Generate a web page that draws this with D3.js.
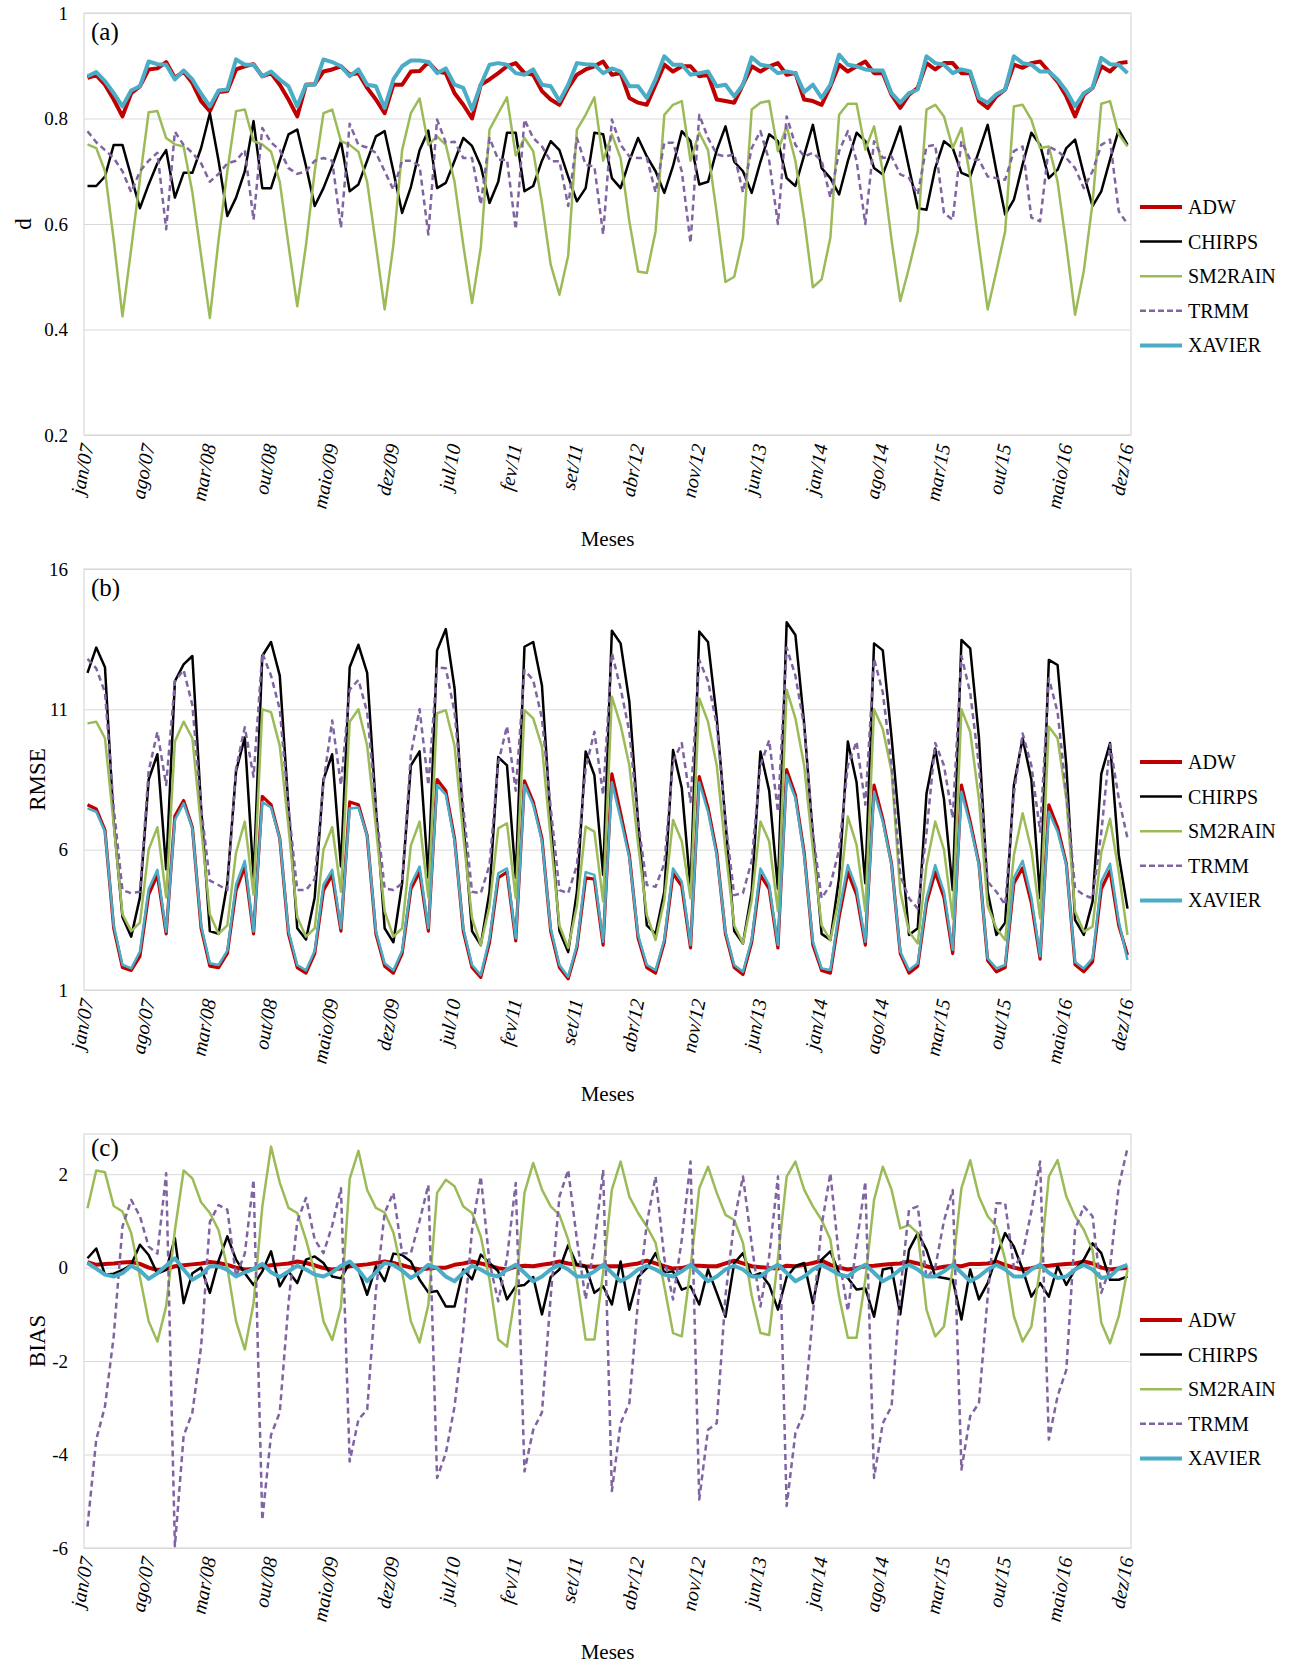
<!DOCTYPE html>
<html>
<head>
<meta charset="utf-8">
<style>
    body { margin: 0; background: #fff; }
    text { font-family: "Liberation Serif", "Times New Roman", serif; fill: #000; }
    .grid line { stroke: #d9d9d9; stroke-width: 1; }
    .grid path { stroke: none; }
    .frame { fill: none; stroke: #d9d9d9; stroke-width: 1.2; }
</style>
</head>
<body>
<script src="https://cdn.jsdelivr.net/npm/d3@7"></script>
<script>
// categories
var monthNames = ["jan","fev","mar","abr","maio","jun","jul","ago","set","out","nov","dez"];
var yearCodes = ["07","08","09","10","11","12","13","14","15","16"];
var tickLabels = ["jan/07","ago/07","mar/08","out/08","maio/09","dez/09","jul/10","fev/11","set/11",
    "abr/12","nov/12","jun/13","jan/14","ago/14","mar/15","out/15","maio/16","dez/16"];
var seriesNames = ["ADW","CHIRPS","SM2RAIN","TRMM","XAVIER"];

// (a) d
var dADW = [0.877,0.882,0.864,0.836,0.804,0.848,0.861,0.893,0.895,0.907,
    0.877,0.889,0.867,0.833,0.814,0.850,0.852,0.893,0.899,0.903,
    0.880,0.886,0.864,0.836,0.804,0.864,0.865,0.889,0.893,0.899,
    0.883,0.886,0.858,0.836,0.810,0.864,0.864,0.889,0.890,0.907,
    0.889,0.886,0.848,0.826,0.800,0.864,0.874,0.886,0.899,0.905,
    0.886,0.883,0.852,0.836,0.826,0.858,0.883,0.893,0.899,0.908,
    0.883,0.886,0.839,0.830,0.826,0.864,0.902,0.889,0.899,0.899,
    0.880,0.883,0.836,0.833,0.830,0.864,0.899,0.889,0.899,0.905,
    0.883,0.886,0.836,0.833,0.826,0.861,0.902,0.889,0.899,0.908,
    0.886,0.886,0.845,0.820,0.845,0.858,0.905,0.893,0.905,0.905,
    0.886,0.886,0.833,0.820,0.842,0.855,0.902,0.896,0.905,0.908,
    0.889,0.870,0.842,0.804,0.845,0.858,0.899,0.889,0.905,0.907];
var dCHIRPS = [0.672,0.672,0.690,0.750,0.750,0.690,0.630,0.675,0.715,0.740,
    0.650,0.697,0.697,0.744,0.810,0.720,0.615,0.650,0.700,0.795,
    0.668,0.668,0.720,0.770,0.779,0.710,0.634,0.668,0.710,0.757,
    0.662,0.675,0.720,0.766,0.776,0.700,0.621,0.670,0.740,0.777,
    0.668,0.678,0.720,0.763,0.748,0.710,0.640,0.680,0.773,0.773,
    0.662,0.672,0.720,0.757,0.740,0.690,0.643,0.668,0.773,0.770,
    0.687,0.668,0.720,0.763,0.728,0.700,0.659,0.710,0.776,0.757,
    0.675,0.680,0.740,0.785,0.718,0.700,0.659,0.718,0.770,0.757,
    0.687,0.672,0.730,0.788,0.706,0.687,0.656,0.719,0.773,0.757,
    0.706,0.694,0.738,0.785,0.706,0.630,0.627,0.706,0.757,0.744,
    0.697,0.690,0.738,0.788,0.700,0.618,0.646,0.713,0.773,0.750,
    0.687,0.703,0.744,0.760,0.694,0.634,0.662,0.722,0.779,0.750];
var dSM2RAIN = [0.751,0.744,0.700,0.570,0.425,0.553,0.685,0.812,0.814,0.763,
    0.751,0.747,0.660,0.540,0.422,0.570,0.700,0.814,0.817,0.757,
    0.751,0.737,0.680,0.560,0.444,0.560,0.700,0.810,0.817,0.757,
    0.750,0.737,0.680,0.560,0.438,0.560,0.740,0.810,0.838,0.750,
    0.766,0.750,0.680,0.560,0.450,0.555,0.779,0.810,0.840,0.730,
    0.763,0.738,0.640,0.523,0.466,0.540,0.779,0.807,0.840,0.720,
    0.770,0.725,0.605,0.510,0.507,0.586,0.807,0.826,0.833,0.720,
    0.773,0.740,0.620,0.490,0.500,0.574,0.817,0.830,0.833,0.738,
    0.785,0.720,0.610,0.480,0.495,0.574,0.807,0.828,0.828,0.741,
    0.785,0.700,0.570,0.454,0.517,0.586,0.817,0.826,0.804,0.744,
    0.782,0.690,0.560,0.438,0.511,0.586,0.823,0.826,0.798,0.744,
    0.747,0.680,0.560,0.428,0.511,0.640,0.828,0.833,0.770,0.747];
var dTRMM = [0.776,0.755,0.740,0.725,0.700,0.660,0.700,0.720,0.735,0.590,
    0.775,0.750,0.735,0.715,0.680,0.695,0.715,0.720,0.740,0.608,
    0.782,0.755,0.740,0.706,0.695,0.700,0.720,0.725,0.720,0.593,
    0.790,0.750,0.745,0.735,0.700,0.665,0.720,0.720,0.710,0.580,
    0.798,0.754,0.756,0.725,0.725,0.637,0.763,0.722,0.722,0.590,
    0.798,0.763,0.747,0.719,0.719,0.634,0.763,0.712,0.709,0.580,
    0.798,0.750,0.728,0.725,0.725,0.660,0.754,0.754,0.700,0.564,
    0.807,0.763,0.732,0.728,0.732,0.660,0.744,0.776,0.720,0.600,
    0.804,0.750,0.728,0.735,0.720,0.650,0.738,0.776,0.720,0.600,
    0.757,0.725,0.728,0.694,0.687,0.656,0.747,0.750,0.621,0.608,
    0.757,0.722,0.722,0.690,0.687,0.684,0.738,0.747,0.612,0.605,
    0.747,0.738,0.725,0.706,0.668,0.700,0.750,0.760,0.624,0.600];
var dXAVIER = [0.880,0.888,0.871,0.848,0.823,0.853,0.861,0.908,0.903,0.902,
    0.874,0.891,0.874,0.847,0.823,0.853,0.855,0.912,0.902,0.902,
    0.880,0.889,0.874,0.861,0.823,0.864,0.864,0.912,0.907,0.899,
    0.880,0.893,0.864,0.861,0.820,0.874,0.899,0.910,0.910,0.907,
    0.886,0.895,0.864,0.858,0.817,0.864,0.902,0.905,0.902,0.886,
    0.883,0.893,0.864,0.861,0.833,0.864,0.905,0.903,0.902,0.886,
    0.895,0.889,0.861,0.861,0.839,0.874,0.918,0.902,0.902,0.883,
    0.886,0.889,0.861,0.864,0.842,0.864,0.916,0.902,0.899,0.886,
    0.889,0.886,0.850,0.864,0.839,0.864,0.921,0.902,0.899,0.893,
    0.891,0.891,0.848,0.830,0.848,0.855,0.918,0.905,0.902,0.886,
    0.893,0.889,0.839,0.830,0.846,0.855,0.918,0.905,0.902,0.889,
    0.889,0.874,0.852,0.823,0.848,0.858,0.915,0.903,0.902,0.886];

// (b) RMSE
var rmseADW = [7.6,7.45,6.7,3.2,1.8,1.7,2.2,4.4,5.1,3.0,
    7.2,7.75,6.8,3.2,1.85,1.8,2.3,4.55,5.4,3.0,
    7.9,7.6,6.4,3.0,1.8,1.6,2.3,4.55,5.1,3.1,
    7.7,7.6,6.5,3.0,1.85,1.6,2.3,4.6,5.2,3.1,
    8.5,8.1,6.4,3.1,1.8,1.45,2.7,5.0,5.2,2.75,
    8.45,7.7,6.4,3.1,1.8,1.4,2.5,5.0,4.95,2.6,
    8.7,7.3,5.8,2.85,1.8,1.6,2.7,5.15,4.7,2.5,
    8.6,7.5,5.9,3.0,1.8,1.55,2.7,5.1,4.6,2.5,
    8.85,7.95,5.9,2.6,1.7,1.6,3.6,5.2,4.4,2.6,
    8.3,7.1,5.5,2.3,1.6,1.85,4.1,5.2,4.3,2.3,
    8.3,7.0,5.5,2.05,1.65,1.8,4.8,5.35,4.1,2.1,
    7.6,6.8,5.5,1.9,1.65,2.0,4.6,5.25,3.3,2.25];
var rmseCHIRPS = [12.3,13.2,12.5,7.0,3.6,2.9,4.3,8.5,9.4,5.3,
    12.0,12.6,12.9,7.5,3.1,3.0,4.8,8.8,10.0,5.0,
    12.9,13.4,12.2,7.5,3.2,2.8,4.3,8.5,9.4,5.4,
    12.5,13.3,12.3,7.5,3.2,2.7,4.8,9.0,9.5,5.0,
    13.1,13.86,11.75,7.0,3.1,2.6,4.5,9.3,9.0,5.0,
    13.23,13.4,11.85,7.0,3.1,2.35,4.5,9.5,8.65,5.1,
    13.8,13.35,11.27,7.0,3.3,3.0,4.5,9.55,8.2,4.6,
    13.77,13.4,10.7,7.0,3.1,2.66,4.5,9.5,8.1,4.6,
    14.1,13.65,10.5,6.5,3.0,2.78,5.0,9.85,8.4,4.8,
    13.35,13.1,10.0,6.5,2.96,3.2,8.0,9.6,7.8,4.56,
    13.47,13.17,10.0,4.5,2.96,3.4,8.3,9.97,8.5,4.27,
    12.76,12.58,9.0,3.5,2.96,4.15,8.7,9.8,5.8,3.9];
var rmseSM2RAIN = [10.5,10.56,9.97,6.9,3.7,3.1,3.4,6.0,6.8,4.3,
    9.85,10.56,9.97,6.8,3.7,3.0,3.3,5.9,7.0,4.4,
    11.0,10.9,9.7,6.8,3.6,2.9,3.2,6.0,6.8,4.5,
    10.56,11.0,9.7,6.8,3.8,2.9,3.2,6.15,7.0,4.3,
    10.86,10.97,9.7,6.5,3.55,2.6,4.0,6.76,6.94,4.27,
    10.97,10.68,9.67,6.4,3.3,2.5,4.0,6.82,6.64,4.15,
    11.45,10.44,9.0,6.2,3.67,2.78,4.2,7.06,6.3,4.27,
    11.39,10.56,9.0,6.0,3.3,2.66,4.2,7.0,6.3,3.8,
    11.7,10.68,9.0,6.0,3.3,2.78,4.27,7.18,6.17,3.8,
    11.0,10.3,8.8,4.5,3.08,2.66,5.45,7.0,6.0,3.55,
    11.0,10.2,7.8,4.0,3.2,2.78,5.8,7.3,6.0,3.55,
    10.38,9.97,7.8,3.8,3.08,3.26,5.9,7.1,5.2,2.96];
var rmseTRMM = [12.8,12.46,11.6,7.5,4.56,4.45,4.5,8.8,10.2,8.3,
    12.0,12.4,11.15,7.5,4.9,4.74,4.56,8.9,10.36,8.6,
    13.0,12.2,11.0,7.5,4.56,4.56,4.95,8.4,10.6,8.3,
    11.7,12.05,10.9,7.5,4.62,4.56,4.8,9.4,11.0,8.3,
    12.5,12.46,10.9,7.5,4.5,4.45,5.45,9.1,10.4,8.1,
    12.4,12.04,10.68,7.5,4.56,4.45,5.45,8.9,10.2,7.95,
    13.0,11.75,10.2,7.0,4.74,4.68,5.5,9.14,9.8,7.7,
    12.76,12.0,10.44,7.0,4.38,4.45,5.6,9.0,9.9,7.35,
    13.2,12.2,10.4,6.6,4.27,4.74,6.0,9.0,9.85,7.6,
    12.8,11.6,9.0,5.08,4.27,3.9,6.6,9.8,9.0,7.12,
    12.9,11.6,9.0,4.86,4.5,4.03,8.0,10.14,9.0,6.64,
    12.1,10.9,8.0,4.62,4.38,4.27,6.6,9.75,7.83,6.4];
var rmseXAVIER = [7.47,7.35,6.64,3.3,1.9,1.77,2.37,4.6,5.28,3.08,
    7.06,7.65,6.76,3.3,1.95,1.89,2.4,4.75,5.6,3.08,
    7.7,7.5,6.4,3.1,1.89,1.7,2.4,4.75,5.28,3.2,
    7.47,7.5,6.5,3.1,1.95,1.7,2.4,4.75,5.4,3.2,
    8.3,7.96,6.3,3.2,1.89,1.53,2.84,5.16,5.33,2.84,
    8.3,7.6,6.3,3.2,1.89,1.47,2.6,5.2,5.1,2.72,
    8.4,7.1,5.7,2.96,1.89,1.71,2.8,5.33,4.86,2.6,
    8.4,7.35,5.8,3.08,1.89,1.65,2.8,5.33,4.74,2.6,
    8.66,7.83,5.8,2.72,1.77,1.71,3.8,5.45,4.6,2.72,
    8.06,7.0,5.45,2.37,1.71,1.95,4.27,5.45,4.5,2.43,
    8.06,6.88,5.45,2.13,1.77,1.89,5.0,5.6,4.3,2.2,
    7.35,6.64,5.45,2.0,1.77,2.13,4.86,5.5,3.45,2.07];

// (c) BIAS
var biasADW = [0.12,0.06,0.08,0.09,0.11,0.12,0.08,0.0,-0.05,-0.03,
    0.03,0.05,0.07,0.09,0.12,0.1,0.06,0.0,-0.04,-0.03,
    0.02,0.05,0.07,0.09,0.13,0.1,0.05,-0.01,-0.04,-0.02,
    0.03,0.05,0.07,0.1,0.13,0.1,0.05,0.0,-0.04,-0.02,
    0.0,0.0,0.06,0.09,0.13,0.09,0.04,-0.01,-0.04,0.02,
    0.04,0.03,0.06,0.09,0.13,0.09,0.06,0.03,0.02,0.03,
    0.03,0.03,0.06,0.09,0.15,0.09,0.03,-0.02,-0.01,0.04,
    0.04,0.03,0.03,0.09,0.15,0.09,0.03,0.01,-0.01,-0.02,
    0.04,0.03,0.06,0.1,0.15,0.06,0.0,-0.04,-0.01,0.03,
    0.04,0.06,0.08,0.09,0.13,0.09,0.03,-0.02,0.02,0.04,
    0.03,0.08,0.08,0.09,0.13,0.06,0.0,-0.04,-0.01,0.03,
    0.04,0.06,0.08,0.09,0.13,0.09,0.0,-0.04,-0.02,-0.01];
var biasCHIRPS = [0.2,0.41,-0.15,-0.13,-0.05,0.06,0.49,0.27,-0.13,-0.05,
    0.63,-0.76,-0.12,0.0,-0.54,0.15,0.67,0.17,-0.12,-0.37,
    -0.08,0.35,-0.4,-0.08,-0.33,0.17,0.24,0.1,-0.19,-0.23,
    0.1,-0.04,-0.58,0.03,-0.29,0.3,0.27,0.13,-0.26,-0.53,
    -0.5,-0.83,-0.83,-0.04,-0.25,0.28,0.1,-0.08,-0.68,-0.4,
    -0.37,-0.2,-1.0,-0.2,-0.04,0.48,0.06,0.03,-0.54,-0.4,
    -0.79,0.13,-0.9,-0.2,-0.01,0.31,-0.1,-0.08,-0.47,-0.4,
    -0.79,-0.04,-0.54,-1.05,0.1,0.31,-0.19,-0.12,-0.37,-0.9,
    -0.2,0.03,0.1,-0.76,0.17,0.35,-0.12,-0.22,-0.47,-0.44,
    -1.05,-0.04,0.0,-1.0,0.38,0.74,0.38,-0.19,-0.22,-0.26,
    -1.11,-0.04,-0.68,-0.33,0.24,0.74,0.45,-0.04,-0.62,-0.33,
    -0.62,0.03,-0.37,-0.04,0.17,0.52,0.31,-0.26,-0.26,-0.19];
var biasSM2RAIN = [1.27,2.08,2.04,1.32,1.2,0.74,-0.2,-1.15,-1.58,-0.83,
    0.8,2.08,1.91,1.4,1.17,0.8,0.0,-1.15,-1.75,-0.76,
    1.3,2.59,1.82,1.28,1.17,0.6,-0.1,-1.15,-1.55,-0.84,
    1.9,2.5,1.66,1.28,1.18,0.75,-0.1,-1.15,-1.6,-0.8,
    1.6,1.88,1.74,1.31,1.17,0.67,-0.26,-1.54,-1.69,-0.5,
    1.6,2.24,1.67,1.31,1.13,0.6,-0.26,-1.54,-1.54,-0.1,
    1.67,2.27,1.52,1.17,0.88,0.53,-0.4,-1.4,-1.47,0.0,
    1.7,2.16,1.6,1.13,1.02,0.53,-0.6,-1.4,-1.44,0.2,
    1.95,2.27,1.67,1.31,1.02,0.6,-0.62,-1.5,-1.5,-0.26,
    1.45,2.16,1.67,0.84,0.91,0.74,-0.9,-1.47,-1.26,0.0,
    1.7,2.3,1.52,1.1,0.88,0.17,-1.04,-1.58,-1.26,0.0,
    1.95,2.3,1.52,1.1,0.81,0.38,-1.18,-1.62,-1.04,-0.04];
var biasTRMM = [-5.54,-3.68,-2.97,-1.47,0.88,1.45,1.1,0.45,0.3,2.02,
    -5.96,-3.6,-3.1,-1.69,0.98,1.34,1.24,-0.19,0.3,1.88,
    -5.4,-3.58,-3.1,-0.76,0.98,1.49,0.6,0.31,0.9,1.7,
    -4.15,-3.25,-3.04,-0.5,1.17,1.6,0.31,0.31,1.0,1.77,
    -4.5,-3.97,-2.97,-1.33,0.81,1.95,0.1,-0.72,0.2,1.81,
    -4.36,-3.47,-3.1,-0.62,1.52,2.09,0.6,-0.68,0.5,2.09,
    -4.78,-3.33,-2.9,-0.7,0.95,1.95,0.2,-0.68,0.6,2.27,
    -4.96,-3.47,-3.33,-0.6,1.0,1.95,0.5,-0.83,0.24,1.95,
    -5.1,-3.54,-3.1,-1.0,0.9,2.02,0.2,-0.93,0.5,1.84,
    -4.5,-3.33,-2.97,-0.5,1.24,1.31,-0.22,0.0,1.0,1.66,
    -4.32,-3.18,-2.9,-0.62,1.38,1.38,0.0,0.3,1.2,2.27,
    -3.68,-2.75,-2.19,0.81,1.31,1.1,-0.54,0.0,1.74,2.56];
var biasXAVIER = [0.1,-0.02,-0.15,-0.19,-0.12,0.04,-0.06,-0.24,-0.12,0.04,
    0.2,-0.04,-0.26,-0.15,0.03,0.03,-0.05,-0.19,-0.1,-0.03,
    0.08,-0.1,-0.2,-0.08,0.04,-0.04,-0.15,-0.19,-0.1,0.04,
    0.13,-0.05,-0.29,-0.1,0.1,0.06,-0.06,-0.22,-0.1,0.06,
    -0.01,-0.19,-0.29,-0.11,0.04,-0.04,-0.15,-0.19,-0.04,0.06,
    -0.11,-0.29,-0.19,-0.04,0.06,-0.04,-0.19,-0.19,-0.08,0.06,
    -0.11,-0.29,-0.19,-0.04,0.04,-0.04,-0.15,-0.19,-0.08,0.06,
    -0.11,-0.29,-0.19,-0.04,0.04,-0.04,-0.19,-0.19,-0.04,0.06,
    -0.11,-0.29,-0.19,-0.04,0.06,-0.04,-0.15,-0.19,-0.04,0.06,
    -0.11,-0.29,-0.19,-0.04,0.06,-0.04,-0.19,-0.19,-0.08,0.06,
    -0.11,-0.29,-0.19,-0.04,0.06,-0.04,-0.19,-0.19,-0.04,0.06,
    -0.11,-0.22,-0.19,-0.04,0.06,-0.04,-0.22,-0.19,-0.01,0.06];

var dTicks = [0.2, 0.4, 0.6, 0.8, 1];
var rmseTicks = [1, 6, 11, 16];
var biasTicks = [-6, -4, -2, 0, 2];

(function() {

    var categories = [];
    yearCodes.forEach(function(yy) {
        monthNames.forEach(function(m) { categories.push(m + "/" + yy); });
    });

    var width = 1298, height = 1665;
    var plotLeft = 84, plotRight = 1131;

    var colors = { ADW: "#c00000", CHIRPS: "#000000", SM2RAIN: "#9bbb59", TRMM: "#8064a2", XAVIER: "#4bacc6" };

    var svg = d3.select("body")
            .append("svg")
            .attr("width", width)
            .attr("height", height)
            .style("background", "#fff");

    var x = d3.scalePoint()
            .domain(categories)
            .range([plotLeft, plotRight])
            .padding(0.4);

    function drawPanel(cfg) {
        var g = svg.append("g");

        var y = d3.scaleLinear()
                .domain(cfg.domain)
                .range([cfg.bottom, cfg.top]);

        // grid + y labels
        g.append("g")
                .attr("class", "grid")
                .attr("transform", "translate(" + plotLeft + ",0)")
                .call(d3.axisLeft(y).tickValues(cfg.ticks).tickSize(-(plotRight - plotLeft)).tickPadding(16)
                    .tickFormat(function(d) { return String(d); }))
                .selectAll("text")
                .style("font-size", "19px")
                .style("font-family", '"Liberation Serif", serif');

        g.append("rect")
                .attr("class", "frame")
                .attr("x", plotLeft)
                .attr("y", cfg.top)
                .attr("width", plotRight - plotLeft)
                .attr("height", cfg.bottom - cfg.top);

        // x labels
        var xa = g.append("g")
                .attr("transform", "translate(0," + cfg.bottom + ")")
                .call(d3.axisBottom(x).tickValues(tickLabels).tickSize(0));
        xa.select(".domain").remove();
        xa.selectAll("text")
                .attr("x", 0)
                .attr("y", 0)
                .attr("dy", "0.35em")
                .attr("text-anchor", "end")
                .attr("transform", "translate(-1,9) rotate(-79)")
                .style("font-size", "20px")
                .style("font-style", "italic")
                .style("font-family", '"Liberation Serif", serif');

        // series
        var line = d3.line()
                .x(function(d, i) { return x(categories[i]); })
                .y(function(d) { return y(d); });

        seriesNames.forEach(function(name, k) {
            g.append("path")
                    .datum(cfg.series[k])
                    .attr("fill", "none")
                    .attr("stroke", colors[name])
                    .attr("stroke-width", cfg.widths[k])
                    .attr("stroke-linejoin", "round")
                    .attr("stroke-dasharray", name === "TRMM" ? "6,4" : null)
                    .attr("d", line);
        });

        // panel tag
        g.append("text")
                .attr("x", 91)
                .attr("y", cfg.tagY)
                .style("font-size", "25px")
                .text(cfg.tag);

        // y title
        g.append("text")
                .attr("transform", "translate(" + cfg.titleX + "," + ((cfg.top + cfg.bottom) / 2) + ") rotate(-90)")
                .attr("text-anchor", "middle")
                .attr("dy", "0.35em")
                .style("font-size", "23px")
                .text(cfg.title);

        // x title
        g.append("text")
                .attr("x", (plotLeft + plotRight) / 2)
                .attr("y", cfg.bottom + 111)
                .attr("text-anchor", "middle")
                .style("font-size", "21px")
                .text("Meses");

        // legend
        var leg = g.append("g")
                .attr("transform", "translate(1140," + cfg.legendY + ")");
        seriesNames.forEach(function(name, k) {
            var row = leg.append("g").attr("transform", "translate(0," + (k * 34.6) + ")");
            row.append("line")
                    .attr("x1", 0).attr("x2", 42)
                    .attr("y1", 0).attr("y2", 0)
                    .attr("stroke", colors[name])
                    .attr("stroke-width", name === "ADW" || name === "XAVIER" ? 4 : 2.5)
                    .attr("stroke-dasharray", name === "TRMM" ? "6,3" : null);
            row.append("text")
                    .attr("x", 48)
                    .attr("y", 0)
                    .attr("dy", "0.35em")
                    .style("font-size", "20px")
                    .text(name);
        });
    }

    drawPanel({
        tag: "(a)", tagY: 40, title: "d", titleX: 23, legendY: 207,
        top: 13, bottom: 435, domain: [0.2, 1], ticks: dTicks,
        series: [dADW, dCHIRPS, dSM2RAIN, dTRMM, dXAVIER],
        widths: [4, 2.5, 2.5, 2.5, 4]
    });

    drawPanel({
        tag: "(b)", tagY: 596, title: "RMSE", titleX: 37, legendY: 762,
        top: 569, bottom: 990, domain: [1, 16], ticks: rmseTicks,
        series: [rmseADW, rmseCHIRPS, rmseSM2RAIN, rmseTRMM, rmseXAVIER],
        widths: [3.2, 2.5, 2.5, 2.5, 2.5]
    });

    drawPanel({
        tag: "(c)", tagY: 1156, title: "BIAS", titleX: 37, legendY: 1320,
        top: 1134, bottom: 1548, domain: [-6, 2.86], ticks: biasTicks,
        series: [biasADW, biasCHIRPS, biasSM2RAIN, biasTRMM, biasXAVIER],
        widths: [4, 2.5, 2.5, 2.5, 4]
    });

})();
</script>
</body>
</html>
